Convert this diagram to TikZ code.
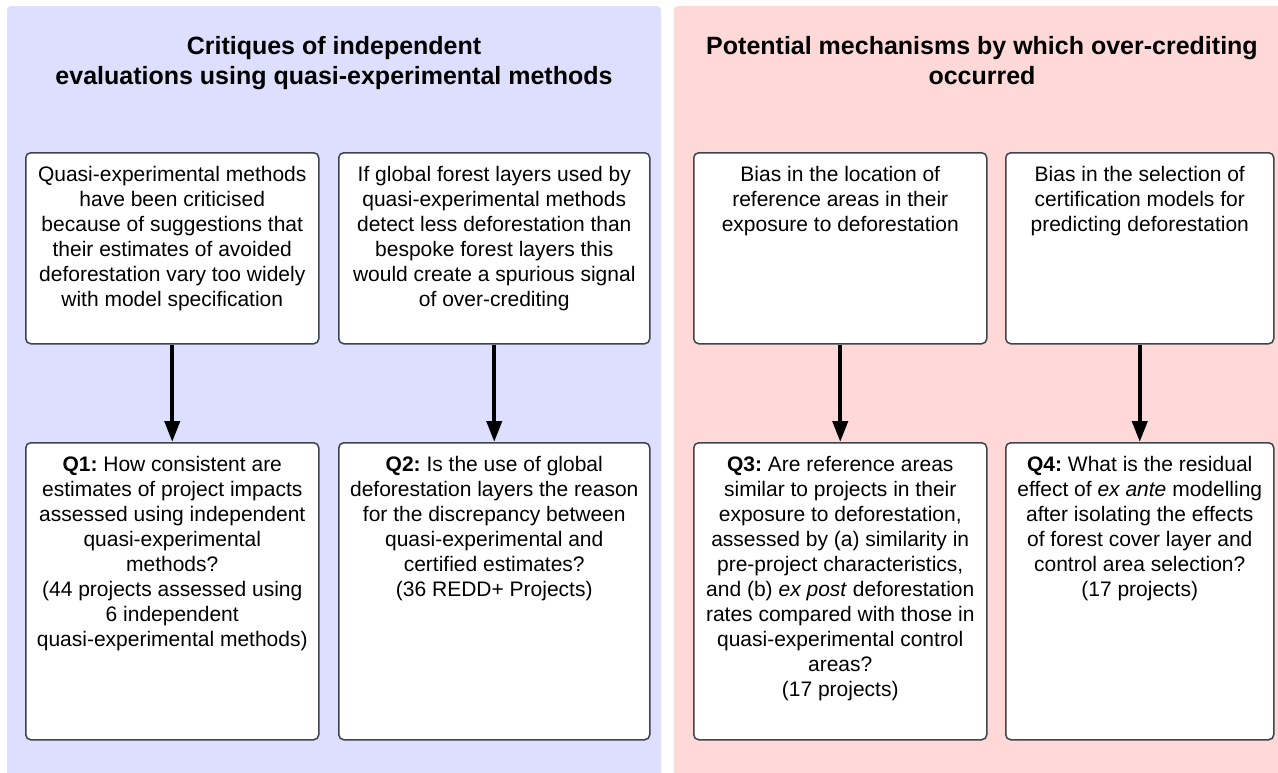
\documentclass[tikz,border=0pt]{standalone}
\usepackage{fontspec}
\setmainfont{Liberation Sans}
\frenchspacing
\usetikzlibrary{arrows.meta,positioning}
\definecolor{panelblue}{RGB}{222,222,255}
\definecolor{panelpink}{RGB}{255,216,216}
\definecolor{boxline}{RGB}{62,67,77}
\tikzset{
  panel/.style={rounded corners=4pt,draw=none},
  qbox/.style={draw=boxline,fill=white,line width=1.5pt,rounded corners=5pt,
               anchor=north west,inner sep=0pt},
  qtext/.style={anchor=north,align=center,inner sep=0pt,
                font=\fontsize{21}{25}\selectfont},
  ttl/.style={anchor=north,align=center,inner sep=0pt,
              font=\fontsize{25}{30}\selectfont\bfseries},
  leads/.style={-{Triangle[length=21pt,width=15pt]},line width=4pt,draw=black},
}
\begin{document}
\begin{tikzpicture}[x=1pt,y=-1pt]
  \useasboundingbox (0,0) rectangle (1278,772);
  % --- background panels
  \fill[panel,panelblue] (7,6) rectangle (661,782);
  \fill[panel,panelpink] (674,6) rectangle (1290,782);
  \node[ttl] (ttlA) at (334,36) {Critiques of independent\\
    evaluations using quasi-experimental methods};
  \node[ttl] (ttlB) at (982,36) {Potential mechanisms by which over-crediting\\
    occurred};
  % --- top row
  \node[qbox,minimum width=293,minimum height=191] (c1) at (25,152) {};
  \node[qbox,minimum width=311,minimum height=191] (c2) at (338,152) {};
  \node[qbox,minimum width=293,minimum height=191] (c3) at (693,152) {};
  \node[qbox,minimum width=268,minimum height=191] (c4) at (1005,152) {};
  % --- bottom row
  \node[qbox,minimum width=293,minimum height=297] (q1) at (25,442) {};
  \node[qbox,minimum width=311,minimum height=297] (q2) at (338,442) {};
  \node[qbox,minimum width=293,minimum height=297] (q3) at (693,442) {};
  \node[qbox,minimum width=268,minimum height=297] (q4) at (1005,442) {};
  % --- texts
  \node[qtext] (c1t) at ([yshift=-14]c1.north) {Quasi-experimental methods\\
    have been criticised\\ because of suggestions that\\ their estimates of avoided\\
    deforestation vary too widely\\ with model specification};
  \node[qtext] (c2t) at ([yshift=-14]c2.north) {If global forest layers used by\\
    quasi-experimental methods\\ detect less deforestation than\\
    bespoke forest layers this\\ would create a spurious signal\\ of over-crediting};
  \node[qtext] (c3t) at ([yshift=-14]c3.north) {Bias in the location of\\
    reference areas in their\\ exposure to deforestation};
  \node[qtext] (c4t) at ([yshift=-14]c4.north) {Bias in the selection of\\
    certification models for\\ predicting deforestation};
  \node[qtext] (q1t) at ([yshift=-14]q1.north) {\textbf{Q1:} How consistent are\\
    estimates of project impacts\\ assessed using independent\\ quasi-experimental\\
    methods?\\ (44 projects assessed using\\ 6 independent\\
    quasi-experimental methods)};
  \node[qtext] (q2t) at ([yshift=-14]q2.north) {\textbf{Q2:} Is the use of global\\
    deforestation layers the reason\\ for the discrepancy between\\
    quasi-experimental and\\ certified estimates?\\ (36 REDD+ Projects)};
  \node[qtext] (q3t) at ([yshift=-14]q3.north) {\textbf{Q3:} Are reference areas\\
    similar to projects in their\\ exposure to deforestation,\\
    assessed by (a) similarity in\\ pre-project characteristics,\\
    and (b) \textit{ex post} deforestation\\ rates compared with those in\\
    quasi-experimental control\\ areas?\\ (17 projects)};
  \node[qtext] (q4t) at ([yshift=-14]q4.north) {\textbf{Q4:} What is the residual\\
    effect of \textit{ex ante} modelling\\ after isolating the effects\\
    of forest cover layer and\\ control area selection?\\ (17 projects)};
  % --- arrows
  \foreach \a/\b in {c1/q1,c2/q2,c3/q3,c4/q4}
    \draw[leads] (\a.south) -- (\b.north);
\end{tikzpicture}
\end{document}
